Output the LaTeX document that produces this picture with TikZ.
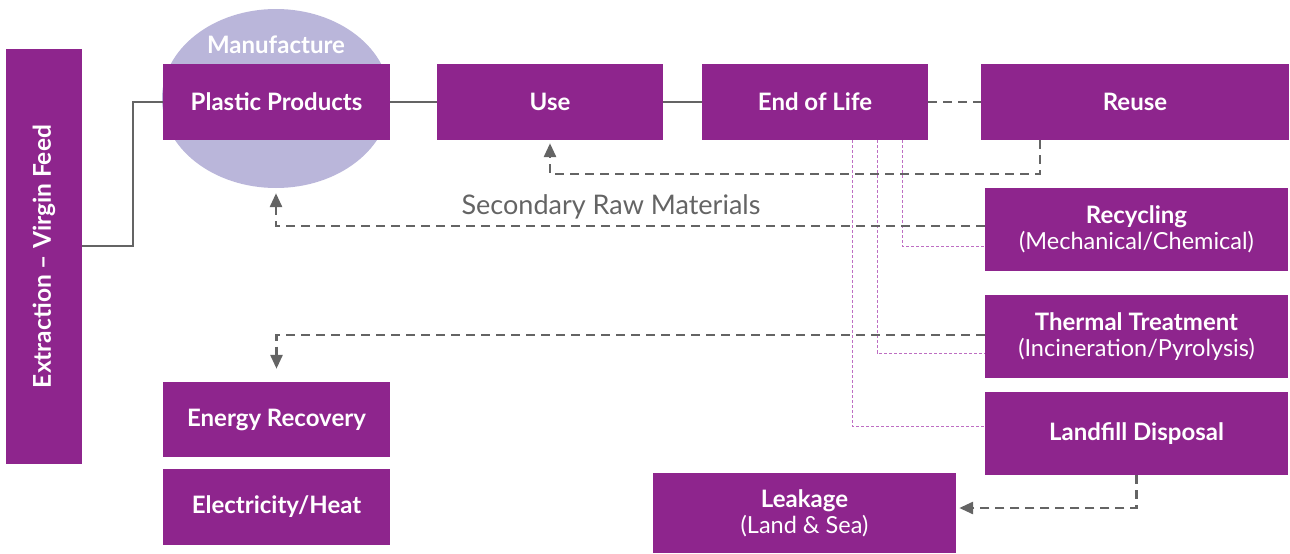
\documentclass[tikz,border=0pt]{standalone}
\usepackage{fontspec}
\setmainfont{Lato}
\usetikzlibrary{arrows.meta,shapes.geometric}
\definecolor{pp}{RGB}{142,37,141}
\definecolor{lav}{RGB}{186,182,218}
\definecolor{gl}{RGB}{100,100,100}
\definecolor{lp}{RGB}{190,110,195}
\newcommand\subtfont{\fontsize{23.5}{26}\selectfont\mdseries}
\begin{document}
\begin{tikzpicture}[x=1pt,y=-1pt,
  box/.style={fill=pp, text=white, inner sep=0pt, align=center,
    font=\fontsize{24}{26}\selectfont\bfseries},
  conn/.style={draw=gl, line width=2.8pt},
  dconn/.style={conn, dash pattern=on 9pt off 6pt},
  arr/.style={-{Triangle[length=14pt,width=12pt]}},
  dotl/.style={draw=lp, line width=1pt, dash pattern=on 3pt off 2pt}]
\useasboundingbox (0,0) rectangle (1290,554);
% ellipse
\node[ellipse, fill=lav, minimum width=228pt, minimum height=179pt, inner sep=0pt] (ell) at (276,98.5) {};
\node[text=white, font=\fontsize{24}{26}\selectfont\bfseries] (manu) at (276,45) {Manufacture};
% boxes
\node[box, minimum width=76pt, minimum height=415pt] (ext) at (44,256.5) {};
\node[text=white, rotate=90, font=\fontsize{24.5}{26}\selectfont\bfseries] (extl) at (ext.center) {Extraction -- Virgin Feed};
\node[box, minimum width=227pt, minimum height=76pt] (pp) at (276.5,102) {Plastic Products};
\node[box, minimum width=226pt, minimum height=76pt] (use) at (550,102) {Use};
\node[box, minimum width=226pt, minimum height=76pt] (eol) at (815,102) {End of Life};
\node[box, minimum width=308pt, minimum height=76pt] (reuse) at (1135,102) {Reuse};
\node[box, minimum width=303pt, minimum height=83pt] (rec) at (1136.5,229.5) {Recycling\\[0pt]{\subtfont (Mechanical/Chemical)}};
\node[box, minimum width=303pt, minimum height=83pt] (th) at (1136.5,336.5) {Thermal Treatment\\[0pt]{\subtfont (Incineration/Pyrolysis)}};
\node[box, minimum width=303pt, minimum height=83pt] (lf) at (1136.5,433.5) {Landfill Disposal};
\node[box, minimum width=303pt, minimum height=80pt] (leak) at (804.5,513) {Leakage\\[0pt]{\subtfont (Land \& Sea)}};
\node[box, minimum width=227pt, minimum height=75pt] (en) at (276.5,419.5) {Energy Recovery};
\node[box, minimum width=227pt, minimum height=76pt] (el) at (276.5,507) {Electricity/Heat};
% dotted purple
\draw[dotl] (eol.south -| 902,0) |- (rec.west |- 0,246);
\draw[dotl] (eol.south -| 877,0) |- (th.west |- 0,353);
\draw[dotl] (eol.south -| 852,0) |- (lf.west |- 0,426);
% solid
\draw[conn] (ext.east |- 0,246) -- (133,246) |- (pp.west);
\draw[conn] (pp) -- (use);
\draw[conn] (use) -- (eol);
\draw[dconn] (eol) -- (reuse);
% dashed arrows
\draw[dconn, arr, shorten >=3pt] (reuse.south -| 1040,0) -- (1040,174) -| (use.south);
\draw[dconn, arr, shorten >=5pt] (rec.west |- 0,226) -| (ell.south);
\node[text=gl, font=\fontsize{27}{30}\selectfont] (srm) at (611,207) {Secondary Raw Materials};
\draw[dconn, arr, shorten >=13pt] (th.west |- 0,335) -| (en.north);
\draw[dconn, arr, shorten >=3pt] (lf.south) |- (leak.east |- 0,508);
\end{tikzpicture}
\end{document}
